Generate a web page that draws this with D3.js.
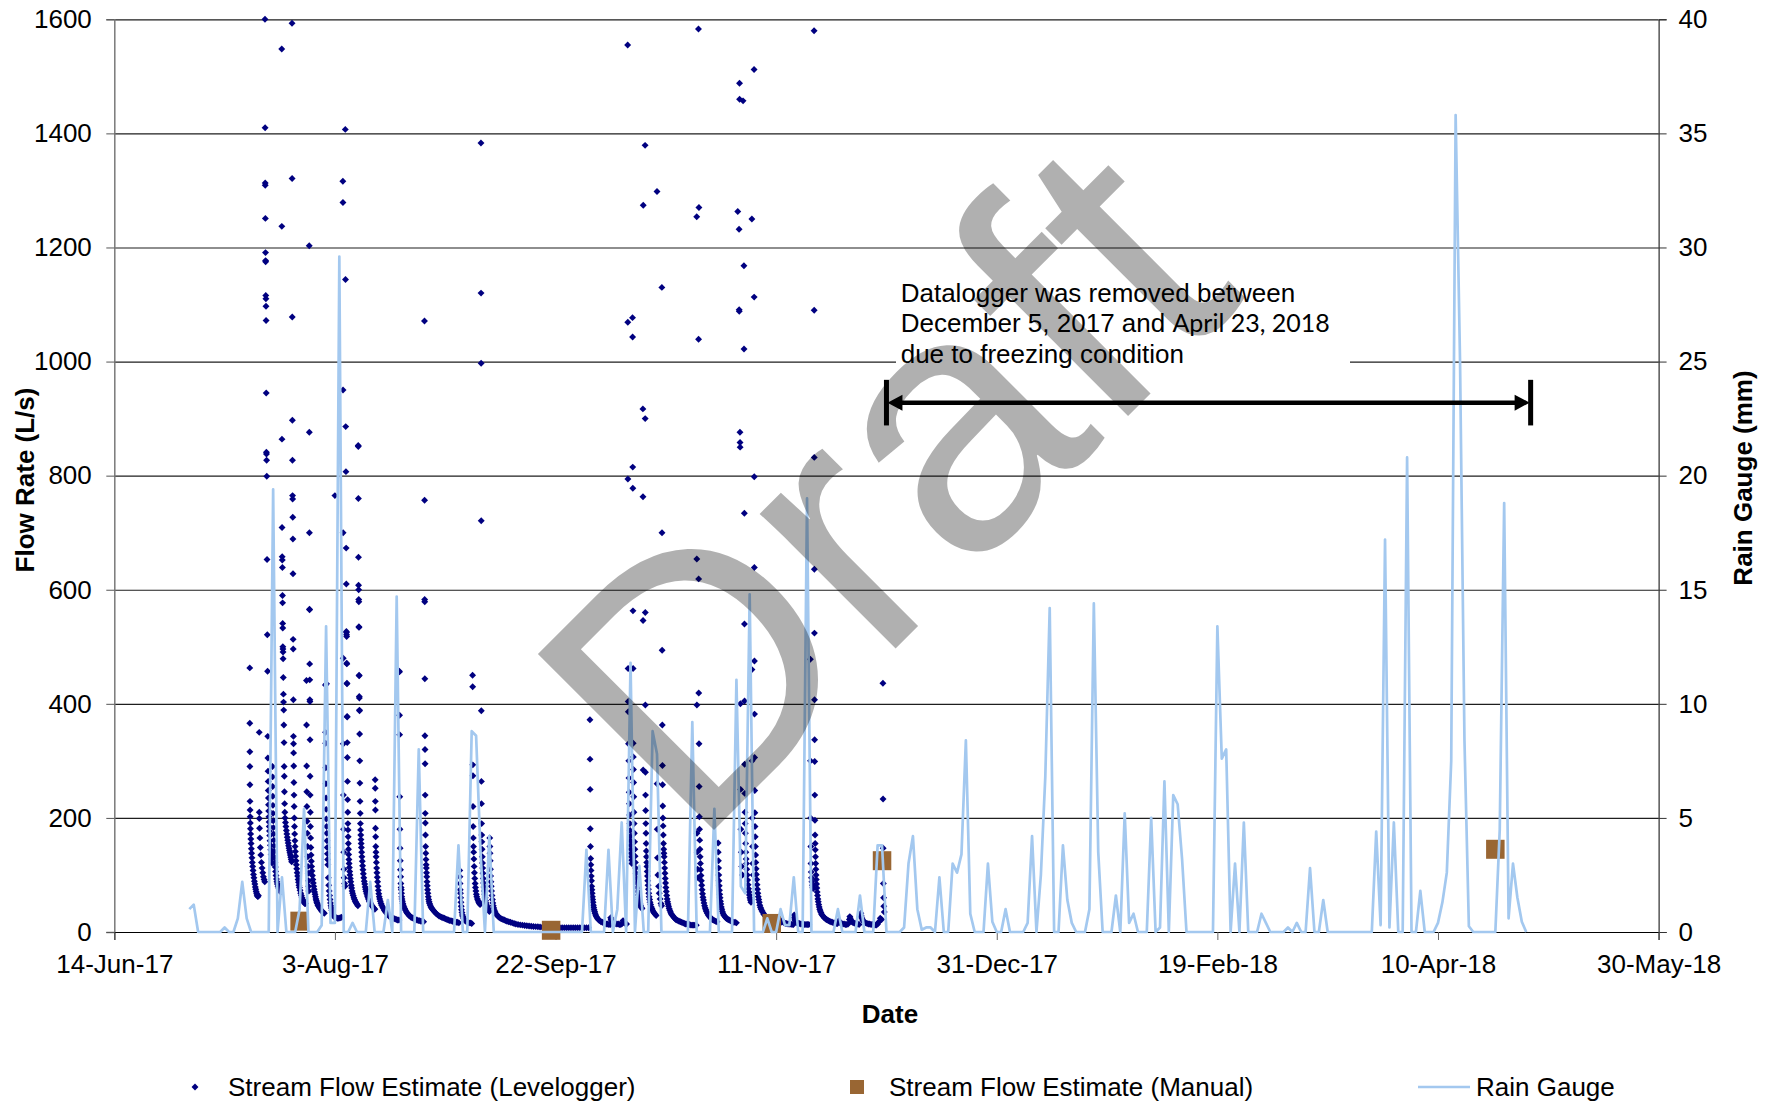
<!DOCTYPE html>
<html>
<head>
<meta charset="utf-8">
<script src="https://cdnjs.cloudflare.com/ajax/libs/d3/7.8.5/d3.min.js"></script>
<style>
  body { margin: 0; background: #fff; }
  #chartContainer { width: 1774px; height: 1102px; }
</style>
</head>
<body>
<div id="chartContainer"></div>
<script>
// Eksen etiketleri
const dateTicks = ["14-Jun-17", "3-Aug-17", "22-Sep-17", "11-Nov-17", "31-Dec-17", "19-Feb-18", "10-Apr-18", "30-May-18"];
const flowTicks = [0, 200, 400, 600, 800, 1000, 1200, 1400, 1600];
const rainTicks = [0, 5, 10, 15, 20, 25, 30, 35, 40];

// Rain gauge, daily totals in mm, first value is 1-Jul-17
const rainStart = "1-Jul-17";
const rainGauge = [
  1.0, 1.2, 0, 0, 0, 0, 0, 0, 0.2, 0,
  0, 0.6, 2.2, 0.6, 0, 0, 0, 0, 0, 19.4,
  0, 2.4, 0, 0, 0, 1.0, 5.4, 0, 0, 0,
  0.3, 13.4, 0.4, 0.4, 29.6, 0, 0, 0.4, 0, 0,
  0, 2.2, 0, 0, 0, 1.4, 0, 14.7, 0, 0,
  0, 0, 8.0, 0, 0, 0, 0, 0, 0, 0,
  0, 3.8, 0, 0, 8.8, 8.6, 3.5, 0, 4.2, 0,
  0, 0, 0, 0, 0, 0, 0, 0, 0, 0,
  0, 0, 0, 0, 0, 0, 0, 0, 0, 0,
  3.6, 0, 0, 0, 0, 3.6, 0, 1.0, 4.8, 0,
  11.8, 0, 2.9, 0, 0, 8.8, 7.8, 0, 0, 0,
  0, 0, 0, 0, 9.2, 0, 0, 0, 0, 5.4,
  0, 0, 0, 0, 11.05, 2.0, 1.7, 14.8, 0, 0,
  0, 0.6, 0, 0, 1.0, 0.3, 0.3, 2.4, 0, 0,
  19.0, 0, 0, 0, 0, 0, 0, 1.0, 0, 0,
  0, 0, 1.6, 0, 0, 0, 3.8, 3.8, 0, 0,
  0, 0, 0.2, 3.0, 4.2, 1.0, 0.1, 0.2, 0.2, 0,
  2.4, 0, 0, 3.0, 2.6, 3.4, 8.4, 0.8, 0, 0,
  0, 3.0, 0.45, 0, 0, 1.0, 0, 0, 0, 0,
  0.4, 4.2, 0, 2.5, 6.8, 14.2, 0, 0, 3.8, 1.4,
  0.4, 0, 0, 0, 1.0, 14.4, 3.5, 0, 0, 0,
  1.6, 0, 5.2, 0.4, 0.8, 0, 0, 0, 5.0, 0,
  0.2, 6.6, 0, 6.0, 5.6, 3.2, 0, 0, 0, 0,
  0, 0, 0, 13.4, 7.6, 8.0, 0, 3.0, 0, 4.8,
  0, 0, 0, 0.8, 0.4, 0, 0, 0, 0, 0.2,
  0, 0.4, 0, 0, 2.8, 0, 0, 1.4, 0, 0,
  0, 0, 0, 0, 0, 0, 0, 0, 0, 4.4,
  0.3, 17.2, 0.2, 4.8, 0, 0, 20.8, 0, 0, 1.8,
  0, 0, 0, 0.4, 1.3, 2.6, 7.5, 35.8, 25, 8.4,
  0.25, 0, 0, 0, 0, 0, 0, 4.5, 18.8, 0.6,
  3.0, 1.5, 0.45, 0
];

// Levelogger estimate: [days after 14-Jun-17, flow L/s]
const levelogger = [
  [30.70,463],[30.71,366],[30.72,316],[30.73,290],[30.74,258],[30.76,229],[30.78,214],[30.80,202],[30.83,191],[30.86,181],[30.90,172],[30.95,163],[31.00,155],[31.06,146],[31.12,138],[31.20,130],[31.28,122],[31.36,115],[31.45,108],[31.55,101],[31.65,95],[31.75,89],[31.85,84],[31.95,79],[32.05,75],[32.15,71],[32.25,68],[32.35,65],[32.45,63],[32.55,62],[32.65,64],
  [32.85,350],[32.86,210],[32.87,199],[32.92,182],[33.00,165],[33.10,148],[33.20,135],[33.35,122],[33.50,112],[33.65,104],[33.80,97],[33.95,92],[34.10,88],
  [34.15,1600],[34.18,1410],[34.20,1313],[34.21,1309],[34.24,1251],[34.27,1191],[34.29,1177],[34.30,1175],[34.33,1116],[34.36,1110],[34.38,1097],[34.40,1072],[34.43,945],[34.47,841],[34.49,838],[34.52,827],[34.56,799],[34.62,653],[34.68,521],[34.74,457],[34.78,343],[34.81,305],[34.84,282],[34.87,264],[34.90,248],[34.93,235],[34.96,223],[35.00,212],[35.04,202],[35.08,193],[35.12,185],[35.17,177],[35.23,169],[35.30,160],[35.38,152],[35.46,144],[35.55,136],[35.65,128],[35.75,121],
  [35.85,290],[35.87,272],[35.89,255],[35.92,238],[35.95,222],[35.98,208],[36.02,195],[36.06,183],[36.10,172],[36.15,161],[36.20,151],[36.26,141],[36.33,131],[36.40,122],[36.48,114],[36.56,106],[36.65,99],[36.75,93],[36.85,88],[36.95,84],[37.10,80],[37.25,77],[37.40,74],[37.55,72],[37.70,70],
  [37.95,1548],[37.97,1237],[38.00,864],[38.02,709],[38.05,658],[38.07,652],[38.10,639],[38.12,590],[38.14,577],[38.16,541],[38.18,533],[38.20,500],[38.22,496],[38.24,491],[38.26,479],[38.30,446],[38.33,417],[38.36,403],[38.40,389],[38.43,363],[38.47,332],[38.50,290],[38.53,273],[38.56,246],[38.60,225],[38.65,210],[38.70,200],[38.80,192],[38.90,185],[39.00,178],[39.10,172],[39.20,166],[39.30,161],[39.40,156],[39.50,151],[39.60,147],[39.70,143],[39.80,139],[39.90,135],[40.00,131],[40.10,127],[40.20,123],
  [40.28,1593],[40.30,1321],[40.33,1078],[40.36,897],[40.38,827],[40.40,765],[40.42,759],[40.45,727],[40.48,689],[40.50,628],[40.53,513],[40.55,496],[40.58,407],[40.60,343],[40.62,330],[40.64,314],[40.67,291],[40.70,262],[40.73,240],[40.76,220],[40.80,200],[40.84,185],[40.88,172],[40.93,160],[40.98,150],[41.04,141],[41.10,133],[41.18,125],[41.26,118],[41.35,111],[41.45,104],[41.55,98],[41.65,92],[41.75,87],[41.85,82],[41.95,78],[42.10,73],[42.25,68],[42.40,64],[42.55,60],[42.70,57],[42.85,54],[43.00,52],[43.15,50],[43.30,50],
  [43.55,441],[43.57,363],[43.60,291],[43.62,246],[43.65,220],[43.70,194],[43.75,173],[43.80,150],[43.85,132],[43.90,115],[43.95,103],[44.00,90],[44.05,80],[44.10,72],
  [44.18,1203],[44.20,876],[44.22,700],[44.24,566],[44.26,565],[44.28,470],[44.30,442],[44.32,407],[44.34,404],[44.36,337],[44.38,273],[44.40,240],[44.43,210],[44.46,185],[44.50,165],[44.55,148],[44.60,135],[44.66,124],[44.72,115],[44.80,107],[44.90,99],[45.00,92],[45.10,86],[45.20,80],[45.30,75],[45.40,70],[45.50,66],[45.60,62],[45.70,58],[45.80,55],[45.90,52],[46.00,50],[46.15,47],[46.30,45],[46.45,43],[46.60,41],[46.80,39],[47.00,37],[47.20,35],[47.40,34],[47.60,33],
  [47.85,433],[47.87,350],[47.90,331],[47.93,288],[47.96,260],[48.00,235],[48.03,215],[48.06,198],[48.10,435],[48.12,185],[48.16,173],[48.20,160],[48.25,148],[48.30,137],[48.35,127],[48.40,118],[48.50,95],[48.60,82],[48.70,72],[48.80,64],[48.90,57],[49.00,51],[49.10,46],[49.20,42],[49.30,38],[49.40,34],[49.50,31],[49.60,29],[49.80,27],[50.00,765],[50.02,26],[50.30,25],[50.60,24],[50.90,24],[51.20,25],[51.50,26],
  [51.80,1316],[51.82,1279],[51.84,950],[51.86,700],[51.88,480],[51.90,330],[51.93,240],[51.96,180],[52.00,140],[52.05,110],[52.10,95],[52.20,85],[52.30,80],
  [52.35,1407],[52.40,1144],[52.45,886],[52.50,807],[52.55,673],[52.58,610],[52.60,527],[52.62,525],[52.64,521],[52.66,518],[52.68,471],[52.70,470],[52.72,436],[52.74,435],[52.76,378],[52.78,377],[52.80,332],[52.82,306],[52.85,264],[52.88,232],[52.91,210],[52.94,190],[52.97,179],[53.00,167],[53.04,155],[53.08,145],[53.12,136],[53.17,127],[53.22,120],[53.28,113],[53.35,106],[53.42,100],[53.50,94],[53.60,88],[53.70,82],[53.80,77],[53.90,72],[54.00,68],[54.15,64],[54.30,60],[54.45,57],[54.60,54],[54.75,52],[54.90,50],[55.05,48],[55.20,46],
  [55.28,853],[55.30,851],[55.32,760],[55.34,657],[55.36,608],[55.38,600],[55.40,583],[55.42,579],[55.44,535],[55.46,534],[55.48,450],[55.50,449],[55.52,413],[55.54,410],[55.56,389],[55.58,388],[55.60,347],[55.63,300],[55.66,261],[55.70,229],[55.74,208],[55.78,190],[55.82,179],[55.86,170],[55.90,162],[55.95,155],[56.00,148],[56.06,140],[56.12,132],[56.20,124],[56.28,116],[56.36,109],[56.45,102],[56.55,95],[56.65,89],[56.75,84],[56.85,79],[56.95,75],[57.05,71],[57.20,67],[57.35,63],[57.50,60],[57.65,57],[57.80,54],[57.95,52],[58.10,50],[58.30,47],[58.50,45],[58.70,43],[58.90,41],[59.05,40],
  [59.12,267],[59.14,252],[59.16,229],[59.18,214],[59.20,182],[59.23,167],[59.26,150],[59.30,140],[59.34,132],[59.40,122],[59.46,112],[59.52,104],[59.60,96],[59.68,88],[59.76,80],[59.85,73],[59.95,67],[60.05,62],[60.15,58],[60.30,54],[60.45,50],[60.60,47],[60.80,44],[61.00,41],[61.20,38],[61.40,36],[61.60,34],[61.80,32],[62.00,30],[62.25,28],[62.50,27],[62.75,26],[63.00,25],[63.30,24],[63.60,23],[63.90,22],[64.20,21],[64.50,21],
  [64.60,457],[64.62,456],[64.65,380],[64.67,346],[64.70,237],[64.74,180],[64.78,147],[64.82,125],[64.86,109],[64.90,97],[64.95,85],[65.00,78],[65.05,74],[65.10,68],[65.15,62],[65.20,58],[65.30,54],[65.40,50],[65.50,47],[65.65,44],[65.80,41],[66.00,38],[66.20,35],[66.40,33],[66.60,31],[66.80,29],[67.00,28],[67.25,26],[67.50,25],[67.75,24],[68.00,23],[68.30,22],[68.60,21],[68.90,20],[69.20,20],[69.50,19],[69.80,19],[70.10,18],
  [70.30,1071],[70.32,757],[70.34,583],[70.36,579],[70.38,444],[70.40,344],[70.42,320],[70.44,295],[70.46,240],[70.48,208],[70.50,191],[70.53,170],[70.56,150],[70.60,138],[70.64,127],[70.68,118],[70.72,112],[70.77,104],[70.82,97],[70.88,88],[70.94,81],[71.00,74],[71.08,68],[71.16,62],[71.25,57],[71.35,53],[71.45,50],[71.60,47],[71.75,44],[71.90,42],[72.10,40],[72.30,38],[72.50,36],[72.75,34],[73.00,32],[73.30,30],[73.60,28],[73.90,27],[74.20,26],[74.50,25],[74.80,24],[75.10,23],[75.40,22],[75.70,21],[76.00,20],[76.30,20],[76.60,19],[76.90,18],[77.20,18],[77.50,17],[77.80,17],[78.10,16],
  [78.30,108],[78.33,97],[78.36,85],[78.40,74],[78.45,68],[78.50,60],[78.56,52],[78.62,45],[78.70,39],[78.80,34],[78.90,30],[79.00,27],[79.15,24],[79.30,22],[79.50,20],[79.70,19],[79.90,18],[80.10,17],[80.40,16],[80.70,16],[81.00,15],
  [81.20,450],[81.22,430],[81.25,293],[81.28,274],[81.30,220],[81.33,185],[81.36,165],[81.40,150],[81.45,140],[81.50,128],[81.56,115],[81.62,104],[81.70,94],[81.78,85],[81.86,78],[81.95,72],[82.05,66],[82.15,62],[82.30,58],[82.45,55],[82.60,52],[82.75,50],[82.90,48],[83.00,50],
  [83.10,1383],[83.12,1120],[83.14,997],[83.16,721],[83.18,388],[83.20,264],[83.22,225],[83.25,190],[83.28,170],[83.31,158],[83.35,145],[83.40,132],[83.45,121],[83.50,112],[83.56,103],[83.63,94],[83.70,86],[83.78,79],[83.86,72],[83.95,66],[84.05,60],[84.15,55],[84.25,51],[84.40,47],[84.55,44],[84.70,41],[84.85,38],[85.00,36],
  [85.10,165],[85.13,150],[85.16,138],[85.20,125],[85.25,110],[85.30,98],[85.36,88],[85.42,80],[85.50,72],[85.60,64],[85.70,57],[85.80,51],[85.90,46],[86.00,42],[86.15,38],[86.30,35],[86.50,32],[86.70,30],[86.90,28],[87.20,26],[87.50,24],[87.80,23],[88.10,22],[88.40,21],[88.70,20],[89.00,19],[89.40,18],[89.80,17],[90.20,16],[90.60,15],[91.00,14],[91.50,13],[92.00,12.5],[92.50,12],[93.00,11.5],[93.50,11],[94.00,10.5],[94.50,10],[95.00,9.7],[95.50,9.4],[96.00,9.1],[96.50,8.8],[97.00,8.5],[97.50,8.2],[98.00,8],[98.50,7.8],[99.00,7.6],[99.50,7.5],[100.00,7.5],[100.50,7.5],[101.00,7.5],[101.50,7.5],[102.00,7.5],[102.50,7.5],[103.00,7.5],[103.50,7.5],[104.00,7.5],[104.50,7.5],[105.00,7.5],[105.50,7.5],[106.00,7.5],[106.50,7.5],[107.00,7.5],[107.50,7.5],
  [107.80,372],[107.82,303],[107.85,250],[107.88,181],[107.92,150],[107.96,129],[108.00,118],[108.05,108],[108.10,98],[108.15,90],[108.20,80],[108.25,74],[108.30,68],[108.36,62],[108.42,57],[108.50,52],[108.58,47],[108.66,43],[108.75,39],[108.85,36],[108.95,33],[109.10,30],[109.25,27],[109.40,25],[109.60,23],[109.80,21],[110.00,20],[110.30,18],[110.60,17],[110.90,16],[111.20,15],[111.50,14],[111.80,14],[112.10,13],[112.40,13],[112.50,25],[112.60,22],[112.70,20],[113.00,18],[113.30,16],[113.60,15],[113.90,14],[114.20,14],[114.50,13],[114.80,13],[115.10,15],[115.30,20],[115.50,17],[115.80,15],[116.10,14],
  [116.35,1555],[116.38,1069],[116.40,794],[116.45,462],[116.47,404],[116.50,386],[116.55,330],[116.60,300],[116.65,270],[116.70,245],[116.75,225],[116.80,205],[116.85,190],[116.90,178],[116.95,168],[117.00,160],[117.05,152],[117.10,145],[117.15,138],[117.20,132],[117.25,126],[117.30,120],
  [117.45,1077],[117.47,1043],[117.50,815],[117.52,778],[117.55,563],[117.58,462],[117.60,331],[117.63,307],[117.66,285],[117.70,262],[117.73,237],[117.77,210],[117.82,190],[117.87,173],[117.92,158],[117.98,145],[118.04,133],[118.10,122],[118.18,112],[118.26,103],[118.35,94],[118.45,86],[118.55,78],[118.65,71],[118.75,65],[118.85,60],[118.95,56],[119.05,52],[119.15,49],[119.30,46],[119.45,43],[119.60,41],
  [119.80,917],[119.82,763],[119.84,546],[119.86,284],[119.88,1274],[120.30,1379],[120.32,900],[120.34,560],[120.36,398],[120.38,280],[120.40,240],[120.43,213],[120.46,190],[120.50,173],[120.54,155],[120.58,142],[120.62,132],[120.67,122],[120.72,115],[120.78,106],[120.84,98],[120.90,90],[120.97,82],[121.05,75],[121.13,68],[121.22,62],[121.32,57],[121.42,52],[121.55,48],[121.70,44],[121.85,41],[122.00,38],[122.20,35],[122.40,33],[122.60,31],[122.80,29],
  [123.00,1298],[123.02,260],[123.05,180],[123.10,130],[123.20,100],[123.35,80],[123.50,68],[123.70,58],[123.90,50],[124.05,46],
  [124.10,1130],[124.13,700],[124.16,494],[124.20,363],[124.23,292],[124.26,258],[124.30,221],[124.34,200],[124.38,186],[124.42,170],[124.47,155],[124.52,145],[124.57,138],[124.62,132],[124.68,122],[124.74,112],[124.80,103],[124.87,94],[124.94,86],[125.02,78],[125.10,71],[125.20,64],[125.30,58],[125.40,53],[125.50,49],[125.62,45],[125.75,41],[125.90,38],[126.05,35],[126.20,32],[126.40,30],[126.60,28],[126.80,26],[127.00,24],[127.25,22],[127.50,21],[127.75,20],[128.00,19],[128.30,18],[128.60,17],[128.90,16],[129.20,15],[129.50,14],[129.80,14],[130.10,13],[130.40,13],[130.70,12],[131.00,12],[131.30,12],[131.60,12],[131.90,12],
  [132.00,1254],[132.02,654],[132.04,398],[132.06,173],[132.10,140],[132.20,110],[132.30,95],
  [132.40,1583],[132.42,1039],[132.44,619],[132.46,419],[132.50,1270],[132.52,330],[132.55,255],[132.60,202],[132.64,180],[132.68,161],[132.73,145],[132.78,132],[132.84,120],[132.90,109],[132.97,99],[133.05,90],[133.13,82],[133.22,74],[133.32,67],[133.42,61],[133.53,56],[133.65,51],[133.78,46],[133.92,42],[134.06,39],[134.20,36],[134.40,33],[134.60,30],[134.80,28],[135.00,26],[135.25,24],[135.50,22],[135.75,21],[136.00,20],[136.30,19],[136.60,18],
  [136.85,156],[136.88,140],[136.92,125],[136.96,112],[137.00,100],[137.05,90],[137.10,81],[137.16,73],[137.22,66],[137.30,60],[137.38,54],[137.47,49],[137.57,44],[137.68,40],[137.80,36],[137.95,33],[138.10,30],[138.30,28],[138.50,26],[138.70,24],[138.90,23],[139.10,22],[139.35,21],[139.60,20],[139.85,19],[140.10,18],[140.40,17],[140.70,17],[141.00,16],
  [141.30,1263],[141.60,1232],[141.62,1091],[141.64,1088],[141.70,1488],[141.72,1460],[141.80,876],[141.82,858],[141.84,850],[141.90,400],[141.95,250],[142.00,180],[142.10,140],[142.20,115],[142.35,100],[142.50,1457],[142.70,1168],[142.72,1022],[142.80,734],[142.82,540],[142.84,405],[142.86,294],[142.90,243],[142.94,210],[142.98,190],[143.02,173],[143.08,155],[143.14,140],[143.20,128],[143.27,120],[143.35,110],[143.45,100],[143.55,91],[143.65,83],[143.75,76],[143.85,70],[143.95,65],[144.05,60],[144.15,56],[144.30,52],
  [144.50,1250],[144.52,460],[144.55,300],[144.60,200],[144.65,150],[144.70,120],[144.80,100],
  [145.00,1512],[145.02,1113],[145.04,798],[145.06,639],[145.08,475],[145.10,382],[145.12,306],[145.15,248],[145.18,209],[145.22,185],[145.26,167],[145.30,150],[145.35,135],[145.40,122],[145.46,111],[145.52,101],[145.60,92],[145.68,83],[145.77,75],[145.86,68],[145.96,62],[146.06,57],[146.18,52],[146.30,47],[146.45,43],[146.60,40],[146.80,37],[147.00,34],[147.20,31],[147.45,29],[147.70,27],[148.00,25],[148.30,23],[148.60,22],[148.90,21],[149.20,20],[149.50,19],[149.80,18],[150.10,18],[150.40,17],[150.70,17],
  [151.00,16],[151.30,20],[151.50,18],[151.80,16],[152.10,15],[152.40,15],[152.70,14],[153.00,14],[153.30,14],[153.60,13],[153.90,13],[154.10,30],[154.15,26],[154.20,23],[154.30,20],[154.45,18],[154.60,17],[154.80,16],[155.00,15],[155.30,15],[155.60,14],[155.90,14],[156.20,13],[156.50,13],[156.80,13],[157.10,13],[157.40,13],
  [157.75,478],[157.78,300],[157.82,200],[157.86,150],[157.90,120],[157.95,105],[158.00,95],[158.10,88],[158.20,82],[158.30,78],[158.40,76],
  [158.60,1580],[158.62,1090],[158.64,832],[158.66,636],[158.68,524],[158.70,407],[158.72,337],[158.74,299],[158.76,240],[158.79,196],[158.82,170],[158.85,155],[158.88,144],[158.92,132],[158.96,120],[159.00,110],[159.05,100],[159.10,92],[159.16,84],[159.22,77],[159.30,70],[159.38,64],[159.46,58],[159.55,53],[159.65,48],[159.76,44],[159.88,40],[160.00,37],[160.15,34],[160.30,31],[160.50,29],[160.70,27],[160.90,25],[161.10,24],[161.35,22],[161.60,21],[161.85,20],[162.10,19],[162.40,18],[162.70,17],[163.00,16],[163.30,16],[163.60,15],
  [163.90,15],[164.20,20],[164.30,18],[164.50,16],[164.80,15],[165.10,14],[165.40,14],[165.70,13],[166.00,13],[166.30,14],[166.60,22],[166.70,27],[166.80,24],[166.95,21],[167.10,19],[167.30,17],[167.60,16],[167.90,15],[168.20,14],[168.50,14],[168.80,13],[169.10,28],[169.20,33],[169.30,28],[169.45,24],[169.60,21],[169.80,19],[170.00,17],[170.30,16],[170.60,15],[170.90,14],[171.20,14],[171.50,13],[171.80,13],[172.10,13],[172.40,12],[172.70,12],[173.00,14],[173.30,18],[173.60,24],[173.90,22],
  [174.20,436],[174.23,233],[174.26,147],[174.30,85],[174.35,60],[174.40,45],[174.50,35]
];

// Manual stream flow estimates
const manualDates = ["26-Jul-17", "21-Sep-17", "10-Nov-17", "5-Dec-17", "23-Apr-18"];
const manualFlow = [19, 3, 15, 125, 145];

// Legend and note texts
const seriesNames = ["Stream Flow Estimate (Levelogger)", "Stream Flow Estimate (Manual)", "Rain Gauge"];
const noteLines = ["Datalogger was removed between", "December 5, 2017 and ", "due to freezing condition"];
const noteDate = "April 23, 2018";
const noteSpan = ["6-Dec-17", "1-May-18"];
const noteFlow = 928;

function drawChart() {
    const width = 1774;
    const height = 1102;
    const margin = { top: 19.3, right: 115.4, bottom: 170, left: 114.3 };
    const plotWidth = width - margin.left - margin.right;
    const plotHeight = height - margin.top - margin.bottom;
    const font = "'Liberation Sans', Arial, sans-serif";

    const parse = d3.timeParse("%d-%b-%y");
    const start = parse(dateTicks[0]);
    const dayToDate = d => new Date(+start + d * 864e5);

    const logger = levelogger.map(p => ({ date: dayToDate(p[0]), flow: p[1] }));
    const rainDay0 = parse(rainStart);
    const rain = rainGauge.map((v, i) => ({ date: d3.timeDay.offset(rainDay0, i), mm: v }));
    const manual = manualDates.map((d, i) => ({ date: parse(d), flow: manualFlow[i] }));

    // Olcekler
    const x = d3.scaleTime()
        .domain([start, parse(dateTicks[dateTicks.length - 1])])
        .range([0, plotWidth]);
    const y = d3.scaleLinear().domain([0, 1600]).range([plotHeight, 0]);
    const yRain = d3.scaleLinear().domain([0, 40]).range([plotHeight, 0]);

    d3.select("#chartContainer").selectAll("*").remove();

    const root = d3.select("#chartContainer")
        .append("svg")
        .attr("width", width)
        .attr("height", height)
        .style("font-family", font);

    root.append("rect").attr("width", width).attr("height", height).attr("fill", "#fff");

    const svg = root.append("g")
        .attr("transform", `translate(${margin.left},${margin.top})`);

    // Izgara
    svg.append("g")
        .call(d3.axisLeft(y).tickValues(flowTicks).tickSize(-plotWidth).tickFormat(""))
        .call(g => g.select(".domain").remove())
        .selectAll("line")
        .attr("stroke", "#1e1e1e")
        .attr("stroke-width", 1.2);

    // Sol eksen
    const yAxis = svg.append("g")
        .call(d3.axisLeft(y).tickValues(flowTicks).tickSize(8).tickPadding(14.5).tickFormat(d3.format("d")));
    yAxis.select(".domain").attr("stroke", "#7a7a7a").attr("stroke-width", 1.5);
    yAxis.selectAll(".tick line").attr("stroke", "#555");
    yAxis.selectAll("text").style("font-size", "26px").attr("fill", "#000");

    // Sag eksen
    const rAxis = svg.append("g")
        .attr("transform", `translate(${plotWidth},0)`)
        .call(d3.axisRight(yRain).tickValues(rainTicks).tickSize(8).tickPadding(12).tickFormat(d3.format("d")));
    rAxis.select(".domain").attr("stroke", "#000").attr("stroke-width", 1);
    rAxis.selectAll(".tick line").attr("stroke", "#333");
    rAxis.selectAll("text").style("font-size", "26px").attr("fill", "#000");

    // X ekseni
    const xAxis = svg.append("g")
        .attr("transform", `translate(0,${plotHeight})`)
        .call(d3.axisBottom(x).tickValues(dateTicks.map(parse)).tickSize(8).tickPadding(15)
            .tickFormat((d, i) => dateTicks[i]));
    xAxis.select(".domain").attr("stroke", "#000").attr("stroke-width", 1.2);
    xAxis.selectAll(".tick line").attr("stroke", "#666");
    xAxis.selectAll("text").style("font-size", "26px").attr("fill", "#000");

    // Levelogger noktalari
    const diamond = d3.symbol().type(d3.symbolSquare).size(24);
    svg.append("g")
        .selectAll("path")
        .data(logger)
        .join("path")
        .attr("d", diamond)
        .attr("transform", d => `translate(${x(d.date)},${y(d.flow)}) rotate(45)`)
        .attr("fill", "#000080");

    // Manuel olcumler
    svg.append("g")
        .selectAll("rect")
        .data(manual)
        .join("rect")
        .attr("x", d => x(d.date) - 9.25)
        .attr("y", d => y(d.flow) - 9.5)
        .attr("width", 18.5)
        .attr("height", 19)
        .attr("fill", "#996633");

    // Yagis cizgisi
    const line = d3.line()
        .x(d => x(d.date))
        .y(d => yRain(d.mm));
    svg.append("path")
        .datum(rain)
        .attr("fill", "none")
        .attr("stroke", "#a3c8ef")
        .attr("stroke-width", 2.7)
        .attr("stroke-linejoin", "round")
        .attr("d", line);

    // Not kutusu
    const noteX = 900.7 - margin.left;
    svg.append("rect")
        .attr("x", 896 - margin.left)
        .attr("y", 268 - margin.top)
        .attr("width", 454)
        .attr("height", 104)
        .attr("fill", "#fff");

    const note = svg.append("text")
        .style("font-size", "26px")
        .attr("fill", "#000");
    note.append("tspan").attr("x", noteX).attr("y", 301.7 - margin.top).text(noteLines[0]);
    note.append("tspan").attr("x", noteX).attr("y", 332.3 - margin.top).text(noteLines[1]);
    note.append("tspan")
        .style("font-family", "Lato, 'Open Sans', sans-serif")
        .style("font-size", "25px")
        .text(noteDate);
    note.append("tspan").attr("x", noteX).attr("y", 362.7 - margin.top).text(noteLines[2]);

    // Ok
    const ax0 = x(parse(noteSpan[0]));
    const ax1 = x(parse(noteSpan[1]));
    const ay = y(noteFlow);
    svg.append("line")
        .attr("x1", ax0 + 10).attr("x2", ax1 - 10)
        .attr("y1", ay).attr("y2", ay)
        .attr("stroke", "#000").attr("stroke-width", 4.5);
    [ax0, ax1].forEach(bx => {
        svg.append("line")
            .attr("x1", bx).attr("x2", bx)
            .attr("y1", ay - 22.8).attr("y2", ay + 22.8)
            .attr("stroke", "#000").attr("stroke-width", 5);
    });
    svg.append("path")
        .attr("d", `M${ax0 + 1},${ay} L${ax0 + 16},${ay - 8} L${ax0 + 16},${ay + 8} Z`)
        .attr("fill", "#000");
    svg.append("path")
        .attr("d", `M${ax1 - 1},${ay} L${ax1 - 16},${ay - 8} L${ax1 - 16},${ay + 8} Z`)
        .attr("fill", "#000");

    // Eksen basliklari
    root.append("text")
        .attr("x", 890).attr("y", 1023)
        .attr("text-anchor", "middle")
        .style("font-size", "26px").style("font-weight", "700")
        .text("Date");
    root.append("text")
        .attr("transform", "translate(33.7,480) rotate(-90)")
        .attr("text-anchor", "middle")
        .style("font-size", "26px").style("font-weight", "700")
        .text("Flow Rate (L/s)");
    root.append("text")
        .attr("transform", "translate(1752.4,478) rotate(-90)")
        .attr("text-anchor", "middle")
        .style("font-size", "26px").style("font-weight", "700")
        .text("Rain Gauge (mm)");

    // Lejant
    const legY = 1087;
    root.append("path")
        .attr("d", diamond)
        .attr("transform", `translate(195,${legY}) rotate(45)`)
        .attr("fill", "#000080");
    root.append("rect")
        .attr("x", 850).attr("y", legY - 7).attr("width", 14).attr("height", 14)
        .attr("fill", "#996633");
    root.append("line")
        .attr("x1", 1418).attr("x2", 1470).attr("y1", legY).attr("y2", legY)
        .attr("stroke", "#a3c8ef").attr("stroke-width", 2.7);
    [228, 889, 1476].forEach((lx, i) => {
        root.append("text")
            .attr("x", lx).attr("y", legY + 8.5)
            .style("font-size", "26px")
            .text(seriesNames[i]);
    });

    // Filigran
    root.append("text")
        .attr("transform", "translate(693,851) rotate(-45)")
        .style("font-size", "362px")
        .attr("fill", "#000")
        .attr("fill-opacity", 0.31)
        .text("Draft");
}

drawChart();
</script>
</body>
</html>
